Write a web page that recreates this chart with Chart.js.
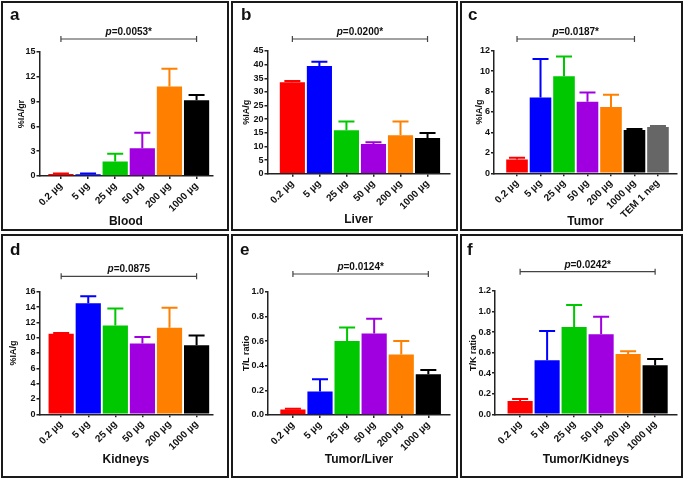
<!DOCTYPE html>
<html>
<head>
<meta charset="utf-8">
<script src="https://cdn.jsdelivr.net/npm/chart.js@4.4.0/dist/chart.umd.min.js"></script>
<style>
  body { margin: 0; background: #fff; }
  #wrap { position: relative; width: 685px; height: 480px; overflow: hidden; background: #fff; }
  .panel { position: absolute; border: 2px solid #1a1a1a; box-sizing: border-box; }
  canvas { position: absolute; left: 0; top: 0; }
</style>
</head>
<body>
<div id="wrap">
  <div class="panel" style="left:1px;top:1px;width:228px;height:230px"></div>
  <div class="panel" style="left:231px;top:1px;width:227px;height:230px"></div>
  <div class="panel" style="left:460px;top:1px;width:223px;height:230px"></div>
  <div class="panel" style="left:1px;top:234px;width:228px;height:244px"></div>
  <div class="panel" style="left:231px;top:234px;width:227px;height:244px"></div>
  <div class="panel" style="left:460px;top:234px;width:223px;height:244px"></div>
</div>
<script>
const doseLabels = ['0.2 µg', '5 µg', '25 µg', '50 µg', '200 µg', '1000 µg'];
const tumorLabels = ['0.2 µg', '5 µg', '25 µg', '50 µg', '200 µg', '1000 µg', 'TEM 1 neg'];
const doseColors = ['#ff0000', '#0000ff', '#00c800', '#a000e0', '#ff8000', '#000000'];
const tumorColors = ['#ff0000', '#0000ff', '#00c800', '#a000e0', '#ff8000', '#000000', '#666666'];

// mean values and top of the error bar (mean + SD)
const bloodMean = [0.25, 0.2, 1.74, 3.36, 10.82, 9.16];
const bloodUpper = [0.3, 0.3, 2.68, 5.23, 12.97, 9.81];
const liverMean = [33.5, 39.5, 15.9, 10.9, 14.1, 13.1];
const liverUpper = [34.0, 41.1, 19.1, 11.5, 19.1, 14.9];
const tumorMean = [1.34, 7.43, 9.49, 7.01, 6.49, 4.24, 4.53];
const tumorUpper = [1.53, 11.18, 11.44, 7.92, 7.70, 4.34, 4.63];
const kidneyMean = [10.5, 14.5, 11.6, 9.25, 11.3, 9.0];
const kidneyUpper = [10.6, 15.4, 13.8, 10.1, 13.9, 10.3];
const tlMean = [0.045, 0.19, 0.60, 0.66, 0.49, 0.33];
const tlUpper = [0.05, 0.29, 0.71, 0.78, 0.60, 0.365];
const tkMean = [0.13, 0.525, 0.85, 0.78, 0.587, 0.477];
const tkUpper = [0.15, 0.81, 1.064, 0.95, 0.613, 0.538];

const pValues = ['0.0053*', '0.0200*', '0.0187*', '0.0875', '0.0124*', '0.0242*'];
const letters = ['a', 'b', 'c', 'd', 'e', 'f'];
const xTitles = ['Blood', 'Liver', 'Tumor', 'Kidneys', 'Tumor/Liver', 'Tumor/Kidneys'];
const yTitles = ['%IA/gr', '%IA/g', '%IA/g', '%IA/g', 'T/L ratio', 'T/K ratio'];
const yMaxes = [15, 45, 12, 16, 1.0, 1.2];
const ySteps = [3, 5, 2, 2, 0.2, 0.2];

const FONT = '"Liberation Sans", Arial, Helvetica, sans-serif';

// page geometry of each plot: axis left/right, top/bottom, y title x, x title y, x range, bracket y, letter pos
const geo = [
  { L: 39.5, R: 212.3, T: 52, B: 176, yt: 21.5, xt: 222, xMin: -0.79, xMax: 5.58, br: 39, lx: 10, ly: 19.5, bp: 0.93 },
  { L: 267.5, R: 449.7, T: 51, B: 173.7, yt: 246.5, xt: 220, xMin: -0.92, xMax: 5.82, br: 39, lx: 241, ly: 19.5, bp: 0.93 },
  { L: 494, R: 677, T: 50.7, B: 173.3, yt: 480, xt: 221.7, xMin: -0.98, xMax: 6.81, br: 39, lx: 468, ly: 19.5, bp: 0.92 },
  { L: 39.5, R: 212.3, T: 291.7, B: 414.3, yt: 13.5, xt: 460, xMin: -0.80, xMax: 5.58, br: 276.3, lx: 10, ly: 255, bp: 0.93 },
  { L: 268, R: 450, T: 291.7, B: 415, yt: 247, xt: 459.3, xMin: -0.92, xMax: 5.80, br: 274, lx: 240, ly: 255, bp: 0.93 },
  { L: 495, R: 677, T: 291, B: 414.3, yt: 474, xt: 460, xMin: -0.93, xMax: 5.81, br: 271.7, lx: 467, ly: 255, bp: 0.93 }
];

const panels = [
  { labels: doseLabels, colors: doseColors, mean: bloodMean, upper: bloodUpper },
  { labels: doseLabels, colors: doseColors, mean: liverMean, upper: liverUpper },
  { labels: tumorLabels, colors: tumorColors, mean: tumorMean, upper: tumorUpper },
  { labels: doseLabels, colors: doseColors, mean: kidneyMean, upper: kidneyUpper },
  { labels: doseLabels, colors: doseColors, mean: tlMean, upper: tlUpper },
  { labels: doseLabels, colors: doseColors, mean: tkMean, upper: tkUpper }
];

function extras(idx) {
  const p = panels[idx], g = geo[idx];
  return {
    id: 'extras' + idx,
    afterDatasetsDraw(chart) {
      const ctx = chart.ctx;
      const y = chart.scales.y;
      const meta = chart.getDatasetMeta(0);
      ctx.save();
      ctx.lineWidth = 2;
      meta.data.forEach((bar, i) => {
        const top = y.getPixelForValue(p.upper[i]);
        ctx.strokeStyle = p.colors[i];
        ctx.beginPath();
        ctx.moveTo(bar.x, bar.y);
        ctx.lineTo(bar.x, top);
        ctx.moveTo(bar.x - 8, top);
        ctx.lineTo(bar.x + 8, top);
        ctx.stroke();
      });
      ctx.restore();
    },
    afterDraw(chart) {
      const ctx = chart.ctx;
      const x = chart.scales.x;
      const x0 = x.getPixelForValue(0), x1 = x.getPixelForValue(5);
      ctx.save();
      // significance bracket
      ctx.strokeStyle = '#444';
      ctx.lineWidth = 1.2;
      ctx.beginPath();
      ctx.moveTo(x0, g.br); ctx.lineTo(x1, g.br);
      ctx.moveTo(x0, g.br - 3); ctx.lineTo(x0, g.br + 3);
      ctx.moveTo(x1, g.br - 3); ctx.lineTo(x1, g.br + 3);
      ctx.stroke();
      // p value text
      ctx.fillStyle = '#111';
      ctx.textBaseline = 'alphabetic';
      ctx.textAlign = 'left';
      const fItal = 'italic bold 10px ' + FONT, fBold = 'bold 10px ' + FONT;
      ctx.font = fItal;
      const w1 = ctx.measureText('p').width;
      ctx.font = fBold;
      const rest = '=' + pValues[idx];
      const w2 = ctx.measureText(rest).width;
      const sx = (x0 + x1) / 2 - (w1 + w2) / 2;
      ctx.font = fItal;
      ctx.fillText('p', sx, g.br - 4);
      ctx.font = fBold;
      ctx.fillText(rest, sx + w1, g.br - 4);
      // panel letter
      ctx.font = 'bold 17px ' + FONT;
      ctx.fillText(letters[idx], g.lx, g.ly);
      ctx.restore();
    }
  };
}

const wrap = document.getElementById('wrap');

panels.forEach((p, idx) => {
  const g = geo[idx];
  const canvas = document.createElement('canvas');
  canvas.width = 685;
  canvas.height = 480;
  wrap.appendChild(canvas);

  const yLeft = g.yt - 5.4;
  const xH = g.xt + 7.2 - g.B;
  const decimals = ySteps[idx] < 1 ? 1 : 0;

  new Chart(canvas, {
    type: 'bar',
    data: {
      datasets: [{
        data: p.mean.map((v, i) => ({ x: i, y: v })),
        backgroundColor: p.colors,
        borderWidth: 0,
        barPercentage: g.bp,
        categoryPercentage: 1
      }]
    },
    options: {
      responsive: false,
      animation: false,
      devicePixelRatio: 1,
      layout: { padding: { left: yLeft, right: 685 - g.R, top: g.T, bottom: 480 - g.B - xH } },
      plugins: { legend: { display: false }, tooltip: { enabled: false } },
      scales: {
        x: {
          type: 'linear',
          min: g.xMin,
          max: g.xMax,
          offset: false,
          afterBuildTicks: s => { s.ticks = p.labels.map((_, i) => ({ value: i })); },
          afterFit: s => { s.height = xH; },
          ticks: {
            autoSkip: false,
            minRotation: 45,
            maxRotation: 45,
            padding: 1,
            color: '#111',
            font: { family: FONT, weight: 'bold', size: 10 },
            callback: v => p.labels[v]
          },
          grid: { display: true, offset: false, drawOnChartArea: false, drawTicks: true, tickLength: 3, color: '#222', lineWidth: 1.5 },
          border: { display: true, color: '#222', width: 1.5 },
          title: { display: true, text: xTitles[idx], color: '#111', padding: 0, font: { family: FONT, weight: 'bold', size: 12 } }
        },
        y: {
          min: 0,
          max: yMaxes[idx],
          afterFit: s => { s.width = g.L - yLeft; },
          ticks: {
            stepSize: ySteps[idx],
            autoSkip: false,
            padding: 1,
            color: '#111',
            font: { family: FONT, weight: 'bold', size: 9 },
            callback: v => Number(v).toFixed(decimals)
          },
          grid: { display: true, drawOnChartArea: false, drawTicks: true, tickLength: 3, color: '#222', lineWidth: 1.5 },
          border: { display: true, color: '#222', width: 1.5 },
          title: { display: true, text: yTitles[idx], color: '#111', padding: 0, font: { family: FONT, weight: 'bold', size: 9 } }
        }
      }
    },
    plugins: [extras(idx)]
  });
});
</script>
</body>
</html>
